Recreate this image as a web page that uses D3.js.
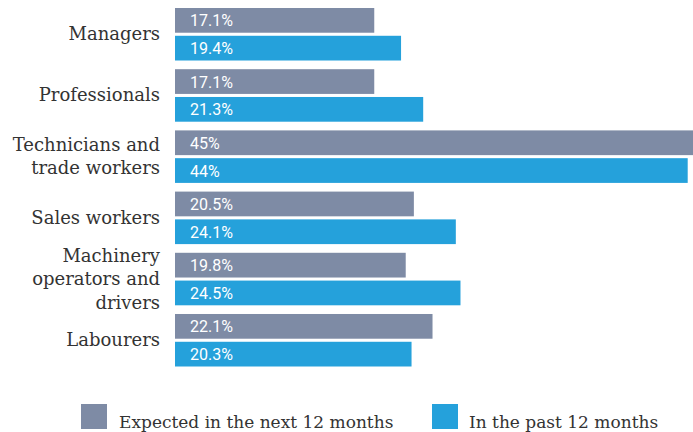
<!DOCTYPE html>
<html><head><meta charset="utf-8">
<script src="https://cdn.jsdelivr.net/npm/d3@7"></script>
<style>body{margin:0;background:#fff}svg{display:block}</style>
</head><body>
<svg id="c" width="693" height="432"></svg>
<script>
const categories = [["Managers"],["Professionals"],["Technicians and","trade workers"],["Sales workers"],["Machinery","operators and","drivers"],["Labourers"]];
const seriesNames = ["Expected in the next 12 months","In the past 12 months"];
const expected = [17.1,17.1,45,20.5,19.8,22.1];
const past = [19.4,21.3,44,24.1,24.5,20.3];
const expectedLabels = ["17.1%","17.1%","45%","20.5%","19.8%","22.1%"];
const pastLabels = ["19.4%","21.3%","44%","24.1%","24.5%","20.3%"];
const colors = ["#7e8ba5","#25a1db"];

const svg = d3.select("#c");
const keys = categories.map(c=>c.join(" "));
const x = d3.scaleLinear().domain([0,44]).range([175,687.7]);
const y0 = d3.scaleBand().domain(keys).range([8,366.5]).paddingInner(0.142).paddingOuter(0);
const y1 = d3.scaleBand().domain(seriesNames).range([0,y0.bandwidth()]).paddingInner(0.11);
const series = [expected,past];
const labels = [expectedLabels,pastLabels];

const g = svg.append("g");
keys.forEach((k,i)=>{
  seriesNames.forEach((s,j)=>{
    const yy = y0(k)+y1(s);
    g.append("rect").attr("x",x(0)).attr("y",yy).attr("width",x(series[j][i])-x(0)).attr("height",y1.bandwidth()).attr("fill",colors[j]);
    g.append("text").attr("x",x(0)+15).attr("y",yy+y1.bandwidth()/2+6)
      .attr("fill","#fff").style("font-family","Roboto").style("font-weight",400).style("font-size","16px")
      .text(labels[j][i]);
  });
  const lines = categories[i];
  const cy = y0(k)+y0.bandwidth()/2;
  const lh = 23.5;
  const t = g.append("text").attr("text-anchor","end").attr("fill","#333")
    .style("font-family","DejaVu Serif").style("font-size","18px");
  lines.forEach((ln,li)=>{
    t.append("tspan").attr("x",160).attr("y",cy+6+(li-(lines.length-1)/2)*lh).text(ln);
  });
});

const leg = [{x:81,tx:119},{x:432,tx:469}];
seriesNames.forEach((s,j)=>{
  svg.append("rect").attr("x",leg[j].x).attr("y",404).attr("width",26).attr("height",25).attr("fill",colors[j]);
  svg.append("text").attr("x",leg[j].tx).attr("y",428).attr("fill","#333")
    .style("font-family","DejaVu Serif").style("font-size","17px").text(s);
});
</script>
</body></html>
